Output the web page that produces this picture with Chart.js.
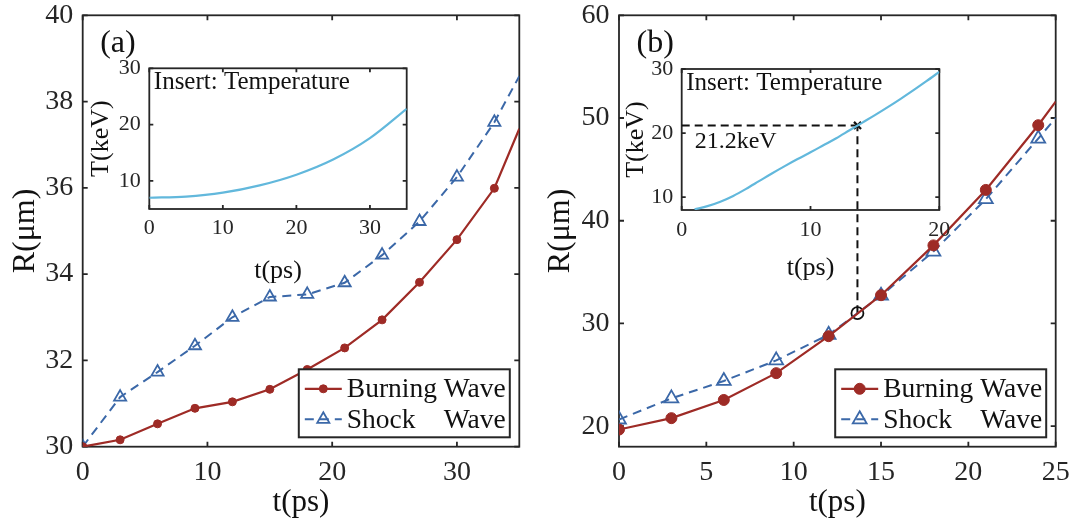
<!DOCTYPE html>
<html>
<head>
<meta charset="utf-8">
<script src="https://cdn.jsdelivr.net/npm/chart.js@4.4.0/dist/chart.umd.min.js"></script>
<style>
  html, body { margin: 0; padding: 0; background: #fff; }
  #wrap { position: relative; width: 1077px; height: 526px; overflow: hidden; background: #fff; }
  canvas { position: absolute; }
</style>
</head>
<body>
<div id="wrap">
  <canvas id="mainA" width="540" height="526" style="left:0;top:0"></canvas>
  <canvas id="mainB" width="537" height="526" style="left:540px;top:0"></canvas>
  <canvas id="insetA" width="345" height="239" style="left:80px;top:50px"></canvas>
  <canvas id="insetB" width="345" height="239" style="left:610px;top:50px"></canvas>
</div>
<script>
// panel (a): radius vs time, last point is where the line leaves the axes
const timeA = [0, 3, 6, 9, 12, 15, 18, 21, 24, 27, 30, 33, 35];
const burnA = [30.0, 30.16, 30.53, 30.89, 31.04, 31.33, 31.79, 32.29, 32.94, 33.81, 34.80, 35.99, 37.37];
const shockA = [30.0, 31.15, 31.73, 32.34, 33.0, 33.47, 33.53, 33.8, 34.44, 35.22, 36.25, 37.52, 38.59];

// panel (b)
const timeB = [0, 3, 6, 9, 12, 15, 18, 21, 24, 25];
const burnB = [19.67, 20.78, 22.55, 25.16, 28.76, 32.75, 37.6, 43.0, 49.3, 51.6];
const shockB = [20.65, 22.7, 24.4, 26.4, 28.9, 32.7, 37.0, 42.1, 48.0, 50.0];

// inset temperature curves
const tempTimeA = [0, 5, 10, 15, 20, 25, 30, 35];
const tempA = [7.0, 7.2, 7.9, 9.2, 11.1, 13.8, 17.6, 22.8];
const tempTimeB = [1, 2, 3, 4, 5, 6, 7, 8, 9, 10, 11, 12, 13, 14, 15, 16, 17, 18, 19, 20];
const tempB = [8.1, 8.6, 9.3, 10.2, 11.3, 12.5, 13.7, 14.85, 15.95, 17.0, 18.1, 19.2, 20.4, 21.6, 22.8, 24.05, 25.35, 26.7, 28.1, 29.55];

// marked point in (b)
const markTime = 13.65;
const markTemp = 21.2;
const markR = 31.0;
const markTopR = 49.3;

// tick labels
const xTicksA = [0, 10, 20, 30];
const yTicksA = [30, 32, 34, 36, 38, 40];
const xTicksB = [0, 5, 10, 15, 20, 25];
const yTicksB = [20, 30, 40, 50, 60];
const xTicksInA = [0, 10, 20, 30];
const yTicksInA = [10, 20, 30];
const xTicksInB = [0, 10, 20];
const yTicksInB = [10, 20, 30];

const SERIF = "'Liberation Serif', 'Times New Roman', serif";
const INK = '#262626';
const RED = '#9E2B26';
const BLUE = '#3B68A8';
const CYAN = '#62B8DC';

Chart.defaults.font.family = SERIF;
Chart.defaults.color = INK;

const pts = (xs, ys) => xs.map((x, i) => ({ x: x, y: ys[i] }));

// box + inward ticks on all four sides
const frameTicks = {
  id: 'frameTicks',
  beforeDatasetsDraw(chart, args, o) {
    const { ctx, chartArea: a, scales: { x, y } } = chart;
    const len = o.len;
    ctx.save();
    ctx.strokeStyle = INK;
    ctx.lineWidth = o.lw;
    ctx.beginPath();
    x.ticks.forEach(t => {
      const p = x.getPixelForValue(t.value);
      ctx.moveTo(p, a.bottom); ctx.lineTo(p, a.bottom - len);
      ctx.moveTo(p, a.top); ctx.lineTo(p, a.top + len);
    });
    y.ticks.forEach(t => {
      const p = y.getPixelForValue(t.value);
      ctx.moveTo(a.left, p); ctx.lineTo(a.left + len, p);
      ctx.moveTo(a.right, p); ctx.lineTo(a.right - len, p);
    });
    ctx.stroke();
    ctx.strokeRect(a.left, a.top, a.right - a.left, a.bottom - a.top);
    ctx.restore();
  }
};

// free text placed relative to the plot area
const notes = {
  id: 'notes',
  afterDraw(chart, args, o) {
    if (!o.items) return;
    const { ctx, chartArea: a } = chart;
    ctx.save();
    o.items.forEach(n => {
      ctx.font = n.size + 'px ' + SERIF;
      ctx.fillStyle = '#111';
      ctx.textAlign = 'left';
      ctx.textBaseline = 'middle';
      ctx.fillText(n.text, a.left + n.dx, a.top + n.dy);
    });
    ctx.restore();
  }
};

// MATLAB style boxed legend in the lower right corner
const boxLegend = {
  id: 'boxLegend',
  afterDraw(chart, args, o) {
    if (!o.show) return;
    const { ctx, chartArea: a } = chart;
    const x0 = a.right - o.right - o.width;
    const y0 = a.bottom - o.bottom - o.height;
    ctx.save();
    ctx.fillStyle = '#fff';
    ctx.fillRect(x0, y0, o.width, o.height);
    ctx.strokeStyle = INK;
    ctx.lineWidth = 2;
    ctx.strokeRect(x0, y0, o.width, o.height);
    ctx.font = o.size + 'px ' + SERIF;
    const waveX = x0 + o.textX + ctx.measureText('Burning ').width;
    const rows = chart.data.datasets.filter(d => d.legendRow !== undefined);
    rows.forEach(d => {
      const yy = y0 + o.rowY[d.legendRow];
      ctx.strokeStyle = d.borderColor;
      ctx.lineWidth = d.borderWidth;
      ctx.setLineDash(d.borderDash || []);
      ctx.beginPath();
      ctx.moveTo(x0 + o.lineX[0], yy);
      ctx.lineTo(x0 + o.lineX[1], yy);
      ctx.stroke();
      ctx.setLineDash([]);
      ctx.fillStyle = d.pointBackgroundColor;
      ctx.strokeStyle = d.pointBorderColor;
      ctx.lineWidth = d.pointBorderWidth;
      Chart.helpers.drawPoint(ctx, {
        pointStyle: d.pointStyle, radius: o.markR[d.legendRow], rotation: 0,
        borderWidth: d.pointBorderWidth
      }, x0 + (o.lineX[0] + o.lineX[1]) / 2, yy);
      ctx.fillStyle = '#111';
      ctx.textAlign = 'left';
      ctx.textBaseline = 'middle';
      const words = d.label.split(' ');
      ctx.fillText(words[0], x0 + o.textX, yy + 1);
      ctx.fillText(words[1], waveX, yy + 1);
    });
    ctx.restore();
  }
};

function axis(min, max, ticks, size, tickPad, tickFont, title) {
  return {
    type: 'linear', min: min, max: max,
    afterBuildTicks: s => { s.ticks = ticks.map(v => ({ value: v })); },
    afterFit: s => {
      // fixed axis band, no extra room for overhanging labels
      if (s.isHorizontal()) { s.height = size; s.paddingLeft = 0; s.paddingRight = 0; }
      else { s.width = size; s.paddingTop = 0; s.paddingBottom = 0; }
    },
    grid: { display: false, drawTicks: false },
    border: { display: false },
    ticks: { padding: tickPad, font: { size: tickFont }, color: INK, maxRotation: 0, autoSkip: false },
    title: { display: true, text: title.text, color: '#111', font: { size: title.size }, padding: title.pad }
  };
}

function mainChart(id, o) {
  const datasets = [
    {
      label: 'Burning Wave', legendRow: 0,
      data: pts(o.time, o.burn),
      borderColor: RED, borderWidth: 2.2, backgroundColor: RED,
      pointStyle: 'circle', pointBackgroundColor: RED, pointBorderColor: RED, pointBorderWidth: 1,
      pointRadius: c => c.dataIndex < o.time.length - 1 ? o.dot : 0,
      tension: 0
    },
    {
      label: 'Shock Wave', legendRow: 1,
      data: pts(o.time, o.shock),
      borderColor: BLUE, borderWidth: 2, borderDash: [9, 6], backgroundColor: 'transparent',
      pointStyle: 'triangle', pointBackgroundColor: 'rgba(0,0,0,0)', pointBorderColor: BLUE, pointBorderWidth: 1.8,
      pointRadius: c => c.dataIndex < o.time.length - 1 ? o.tri : 0,
      tension: 0
    }
  ].concat(o.extra || []);
  return new Chart(document.getElementById(id), {
    type: 'line',
    data: { datasets: datasets },
    options: {
      responsive: false, animation: false, events: [],
      layout: { padding: { top: 15.3, right: o.padRight, bottom: 5, left: 0 } },
      scales: {
        x: axis(o.xMin, o.xMax, o.xTicks, 74.3, 9, 28, { text: 't(ps)', size: 31, pad: { top: 0, bottom: 0 } }),
        y: axis(o.yMin, o.yMax, o.yTicks, o.yWidth, 9.5, 28, { text: 'R(\u03bcm)', size: 32, pad: { top: o.yTitlePad, bottom: 0 } })
      },
      plugins: {
        legend: { display: false }, tooltip: { enabled: false },
        frameTicks: { len: 5, lw: 1.8 },
        notes: { items: [{ text: o.tag, size: 32, dx: 17.5, dy: 28 }] },
        boxLegend: {
          show: true, width: 211, height: 68, right: 9.5, bottom: 9.4, size: 27.5,
          rowY: [19.5, 50], lineX: [6, 43], textX: 48, markR: [o.dot, o.tri]
        }
      }
    },
    plugins: [frameTicks, notes, boxLegend]
  });
}

function insetChart(id, o) {
  return new Chart(document.getElementById(id), {
    type: 'line',
    data: { datasets: [{
      data: pts(o.time, o.temp),
      borderColor: CYAN, borderWidth: 2.2, pointRadius: 0,
      cubicInterpolationMode: 'monotone', fill: false
    }].concat(o.extra || []) },
    options: {
      responsive: false, animation: false, events: [],
      layout: { padding: { top: o.padTop, right: o.padRight, bottom: 0, left: 0 } },
      scales: {
        x: axis(o.xMin, o.xMax, o.xTicks, o.xHeight, o.xTickPad, 22, { text: 't(ps)', size: 26, pad: { top: 0, bottom: o.xTitlePad } }),
        y: axis(o.yMin, o.yMax, o.yTicks, o.yWidth, 8.5, 22, { text: 'T(keV)', size: 26, pad: { top: o.yTitlePad, bottom: 0 } })
      },
      plugins: {
        legend: { display: false }, tooltip: { enabled: false },
        frameTicks: { len: 4, lw: 1.8 },
        notes: { items: [{ text: 'Insert: Temperature', size: 25, dx: 4.5, dy: 14 }].concat(o.notes || []) },
        boxLegend: { show: false }
      }
    },
    plugins: [frameTicks, notes]
  });
}

mainChart('mainA', {
  time: timeA, burn: burnA, shock: shockA, dot: 4, tri: 7,
  xMin: 0, xMax: 35, yMin: 30, yMax: 40, xTicks: xTicksA, yTicks: yTicksA,
  padRight: 20.7, yWidth: 82.7, yTitlePad: 6, tag: '(a)'
});

mainChart('mainB', {
  time: timeB, burn: burnB, shock: shockB, dot: 5.5, tri: 8,
  xMin: 0, xMax: 25, yMin: 18, yMax: 60, xTicks: xTicksB, yTicks: yTicksB,
  padRight: 21.3, yWidth: 79, yTitlePad: 1.5, tag: '(b)',
  extra: [
    {
      data: [{ x: markTime, y: markR }, { x: markTime, y: markTopR }],
      borderColor: '#111', borderWidth: 2, borderDash: [8, 5], pointRadius: 0
    },
    {
      data: [{ x: markTime, y: markR }],
      showLine: false, pointStyle: 'circle', pointRadius: 6,
      pointBackgroundColor: 'rgba(0,0,0,0)', pointBorderColor: '#111', pointBorderWidth: 1.8
    }
  ]
});

insetChart('insetA', {
  time: tempTimeA, temp: tempA,
  xMin: 0, xMax: 35, yMin: 5, yMax: 30, xTicks: xTicksInA, yTicks: yTicksInA,
  padTop: 18.3, padRight: 18.3, xHeight: 80, yWidth: 69.3,
  xTickPad: 6, xTitlePad: 2.4, yTitlePad: 5.4
});

insetChart('insetB', {
  time: tempTimeB, temp: tempB,
  xMin: 0, xMax: 20, yMin: 8, yMax: 30, xTicks: xTicksInB, yTicks: yTicksInB,
  padTop: 19, padRight: 15.7, xHeight: 79, yWidth: 71.7,
  xTickPad: 6.8, xTitlePad: 5.4, yTitlePad: 11,
  notes: [{ text: '21.2keV', size: 24, dx: 13, dy: 72.7 }],
  extra: [
    {
      data: [{ x: 0, y: markTemp }, { x: markTime, y: markTemp }],
      borderColor: '#111', borderWidth: 2, borderDash: [8, 5], pointRadius: 0
    },
    {
      data: [{ x: markTime, y: markTemp }],
      showLine: false, pointStyle: 'crossRot', pointRadius: 5,
      pointBorderColor: '#111', pointBorderWidth: 2.2
    }
  ]
});
</script>
</body>
</html>
